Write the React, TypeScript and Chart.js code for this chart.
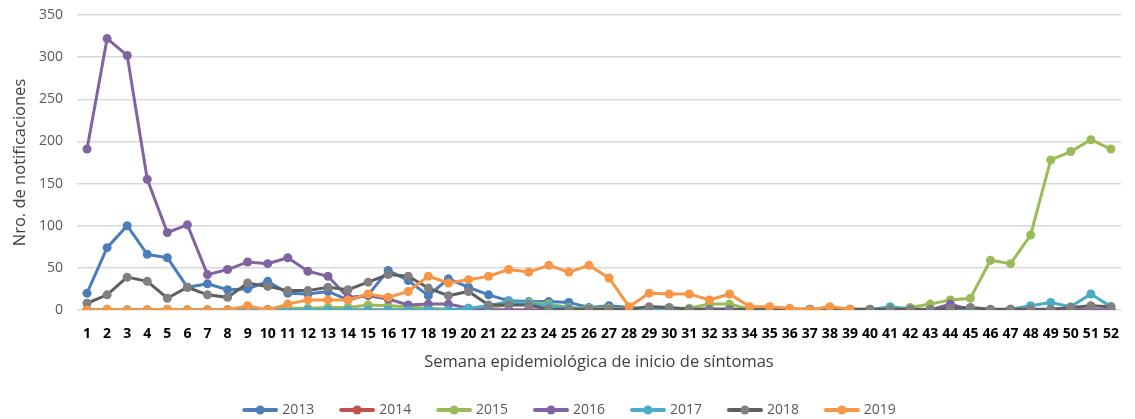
import React, { useEffect, useRef } from "react";
import { Chart, registerables } from "chart.js";

Chart.register(...registerables);

const weeks: string[] = Array.from({ length: 52 }, (_, i) => String(i + 1));

const y2013 = [20, 74, 100, 66, 62, 27, 31, 24, 25, 34, 20, 19, 22, 12, 18, 47, 35, 17, 37, 27, 18, 11, 10, 10, 9, 3, 5, 3, 1, 1, 1, 1, 1, 0, 0, 0, 0, 0, 0, 0, 0, 0, 0, 0, 0, 0, 1, 0, 0, 0, 0, 0];
const y2014 = [0, 0, 0, 0, 0, 0, 0, 0, 0, 0, 0, 0, 0, 0, 0, 0, 0, 0, 0, 0, 0, 0, 0, 0, 0, 0, 0, 0, 0, 0, 0, 0, 0, 0, 0, 0, 0, 0, 0, 0, 0, 0, 0, 0, 0, 0, 0, 0, 0, 0, 0, 0];
const y2015 = [0, 0, 0, 0, 0, 0, 0, 0, 0, 1, 2, 2, 3, 3, 6, 5, 4, 2, 1, 0, 3, 6, 9, 7, 3, 2, 2, 1, 1, 2, 2, 7, 7, 1, 0, 1, 1, 1, 1, 1, 1, 3, 7, 12, 14, 59, 55, 89, 178, 188, 202, 191];
const y2016 = [191, 322, 302, 155, 92, 101, 42, 48, 57, 55, 62, 46, 40, 15, 17, 13, 6, 7, 7, 2, 0, 0, 0, 0, 0, 0, 0, 0, 0, 0, 0, 0, 0, 0, 0, 0, 0, 0, 0, 0, 0, 0, 0, 7, 0, 0, 0, 0, 0, 0, 0, 0];
const y2017 = [0, 0, 0, 0, 0, 0, 0, 0, 0, 0, 0, 0, 0, 0, 0, 0, 0, 0, 0, 2, 5, 10, 8, 5, 2, 1, 0, 0, 0, 0, 0, 0, 0, 0, 0, 0, 0, 0, 0, 0, 4, 1, 0, 0, 0, 0, 1, 5, 9, 4, 19, 4];
const y2018 = [8, 18, 39, 34, 14, 27, 18, 15, 32, 28, 23, 23, 27, 24, 33, 42, 40, 26, 17, 22, 6, 6, 6, 1, 1, 1, 1, 1, 4, 3, 1, 1, 1, 1, 1, 1, 1, 1, 1, 1, 1, 1, 1, 2, 3, 1, 1, 1, 1, 3, 5, 4];
const y2019: (number | null)[] = [0, 1, 0, 0, 1, 0, 0, 0, 5, 0, 7, 12, 12, 12, 19, 15, 22, 40, 32, 36, 40, 48, 45, 53, 45, 53, 38, 4, 20, 19, 19, 12, 19, 4, 4, 2, 0, 4, 1, null, null, null, null, null, null, null, null, null, null, null, null, null];

const yTicks = [0, 50, 100, 150, 200, 250, 300, 350];

const seriesNames = ["2013", "2014", "2015", "2016", "2017", "2018", "2019"];
const seriesValues = [y2013, y2014, y2015, y2016, y2017, y2018, y2019];
const lineColors = ["#4A7EBB", "#C0504D", "#9BBB59", "#8064A2", "#4BACC6", "#5E5E5E", "#F79646"];
const pointColors = ["#4A7EBB", "#C0504D", "#9BBB59", "#8064A2", "#4BACC6", "#808080", "#F79646"];

const LEGEND_BOX = 37;
const LINE_LEN = 36;

function legendIcon(line: string, point: string): HTMLCanvasElement {
  const c = document.createElement("canvas");
  const w = LEGEND_BOX + 6;
  c.width = w;
  c.height = 12;
  const ctx = c.getContext("2d")!;
  const x0 = w - LINE_LEN;
  ctx.strokeStyle = line;
  ctx.lineWidth = 4;
  ctx.lineCap = "round";
  ctx.beginPath();
  ctx.moveTo(x0 + 2, 6);
  ctx.lineTo(w - 2, 6);
  ctx.stroke();
  ctx.fillStyle = point;
  ctx.beginPath();
  ctx.arc(x0 + LINE_LEN / 2, 6, 4.5, 0, Math.PI * 2);
  ctx.fill();
  return c;
}

export default function App() {
  const ref = useRef<HTMLCanvasElement | null>(null);

  useEffect(() => {
    document.body.style.margin = "0";
    document.body.style.overflow = "hidden";
    if (!ref.current) return;
    const font = "'Open Sans', 'Noto Sans', sans-serif";
    const icons = seriesNames.map((_, i) => legendIcon(lineColors[i], pointColors[i]));
    const datasets = seriesNames
      .map((name, i) => ({
        label: name,
        data: seriesValues[i],
        borderColor: lineColors[i],
        backgroundColor: pointColors[i],
        pointBackgroundColor: pointColors[i],
        pointBorderColor: pointColors[i],
        borderWidth: 3,
        pointRadius: 4.5,
        pointBorderWidth: 0,
        tension: 0,
        spanGaps: false,
        _icon: icons[i],
      }))
      .reverse();

    const chart = new Chart(ref.current, {
      type: "line",
      data: { labels: weeks, datasets: datasets as any },
      options: {
        animation: false,
        responsive: false,
        maintainAspectRatio: false,
        layout: { padding: { top: 15, left: 10, right: 0, bottom: -8 } },
        plugins: {
          tooltip: { enabled: false },
          legend: {
            position: "bottom",
            reverse: true,
            labels: {
              usePointStyle: true,
              boxWidth: LEGEND_BOX,
              boxHeight: 12,
              pointStyleWidth: LEGEND_BOX,
              padding: 10,
              color: "#595959",
              font: { family: font, size: 14 },
              generateLabels: (ch: any) =>
                ch.data.datasets.map((ds: any, i: number) => ({
                  text: ds.label + "   ",
                  fillStyle: ds.borderColor,
                  strokeStyle: ds.borderColor,
                  lineWidth: 0,
                  pointStyle: ds._icon,
                  hidden: false,
                  datasetIndex: i,
                  fontColor: "#595959",
                })),
            },
          },
        },
        scales: {
          x: {
            offset: true,
            grid: { display: false, drawTicks: false, offset: true },
            border: { display: false },
            ticks: {
              autoSkip: false,
              maxRotation: 0,
              minRotation: 0,
              padding: 16,
              color: "#000000",
              font: { family: font, size: 14, weight: "bold" },
            },
            title: {
              display: true,
              text: "Semana epidemiológica de inicio de síntomas",
              color: "#404040",
              font: { family: font, size: 16.5 },
              padding: { top: 6, bottom: 21 },
            },
            afterFit: (s: any) => {
              s.height = 83;
            },
          },
          y: {
            min: 0,
            max: 350,
            afterBuildTicks: (s: any) => {
              s.ticks = yTicks.map((v) => ({ value: v }));
            },
            grid: { color: "#D9D9D9", lineWidth: 1.5, drawTicks: false },
            border: { display: false },
            ticks: {
              padding: 14,
              color: "#595959",
              font: { family: font, size: 14 },
            },
            title: {
              display: true,
              text: "Nro. de notificaciones",
              color: "#404040",
              font: { family: font, size: 16.5 },
              padding: 0,
            },
            afterFit: (s: any) => {
              s.width = 67;
              s.paddingTop = 6;
              s.paddingBottom = 6;
            },
          },
        },
      },
    });
    return () => chart.destroy();
  }, []);

  return (
    <div style={{ width: 1135, height: 419 }}>
      <canvas ref={ref} width={1135} height={419} style={{ width: 1135, height: 419, display: "block" }} />
    </div>
  );
}
